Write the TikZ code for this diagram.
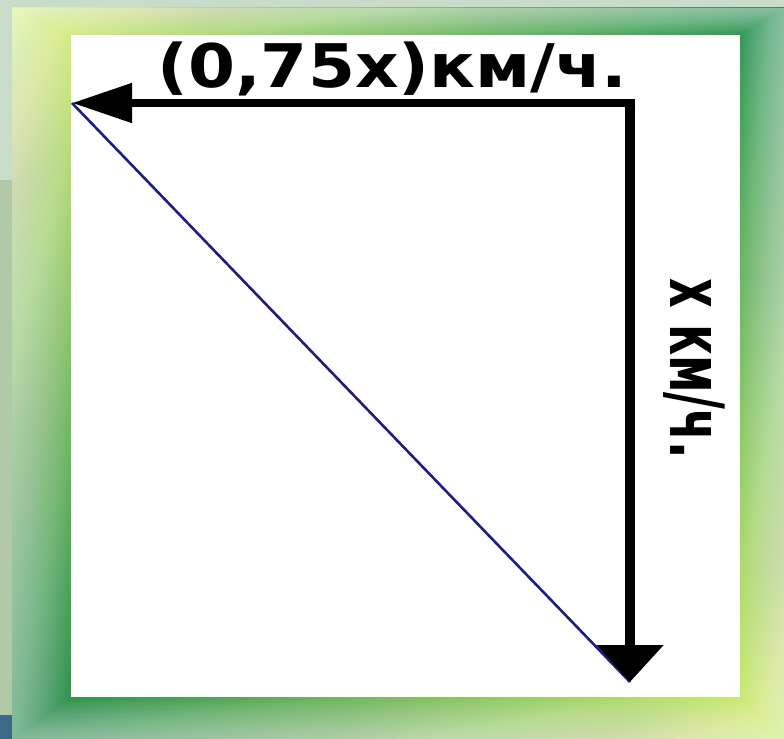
\documentclass[tikz,border=0pt]{standalone}
\usepackage{fontspec}
\setmainfont{DejaVu Sans}
\usetikzlibrary{arrows.meta,shadings}
\definecolor{bgtop}{RGB}{201,220,201}
\definecolor{bgmid}{RGB}{178,201,168}
\definecolor{bgbot}{RGB}{58,106,138}
\definecolor{fyel}{RGB}{232,246,140}
\definecolor{fyel2}{RGB}{222,244,120}
\definecolor{fgrn}{RGB}{36,146,86}
\definecolor{fgrn2}{RGB}{26,134,74}
\definecolor{navy}{RGB}{30,30,130}
\tikzset{
  harrow/.style={draw=black, line width=4pt, -{Triangle[length=30pt,width=19pt]}},
  varrow/.style={draw=black, line width=5pt, -{Triangle[length=18.5pt,width=32.5pt]}},
  diag/.style={draw=navy, line width=1.3pt},
  lab/.style={inner sep=0pt, text=black},
}
\begin{document}
\begin{tikzpicture}[x=0.5pt,y=-0.5pt]
\useasboundingbox (0,0) rectangle (784,739);
% page background
\fill[bgtop] (0,0) rectangle (784,739);
\fill[bgmid] (0,180) rectangle (12,715);
\fill[bgbot] (0,715) rectangle (12,739);
% gradient frame
\shade[upper left=fyel, upper right=fgrn, lower left=fgrn2, lower right=fyel2] (12,8) rectangle (784,739);
\foreach \i in {1,...,24}{
  \fill[white, opacity=0.026, even odd rule]
    (12,8) rectangle (784,739)
    ({12+58*\i/25},{8+26*\i/25}) rectangle ({784-43*\i/25},{739-41*\i/25});
}
% white panel
\fill[white] (71,35) rectangle (740,697);
% geometry
\coordinate (A) at (72,103);
\coordinate (B) at (630,682);
\coordinate (hstart) at (635,103);
\coordinate (vstart) at (630,99);
\draw[diag] (A) -- (B);
\draw[harrow] (hstart) -- (A);
\draw[varrow] (vstart) -- (B);
% labels
\node[lab, anchor=base west] (toplab) at (157,88)
  {\scalebox{1.09}[0.97]{\fontsize{31}{31}\selectfont\bfseries (0,75x)км/ч.}};
\node[lab, rotate=-90, anchor=base west] (sidelab) at (670,278)
  {\scalebox{1}[1.63]{\fontsize{23}{23}\selectfont\bfseries x км/ч.}};
\end{tikzpicture}
\end{document}
